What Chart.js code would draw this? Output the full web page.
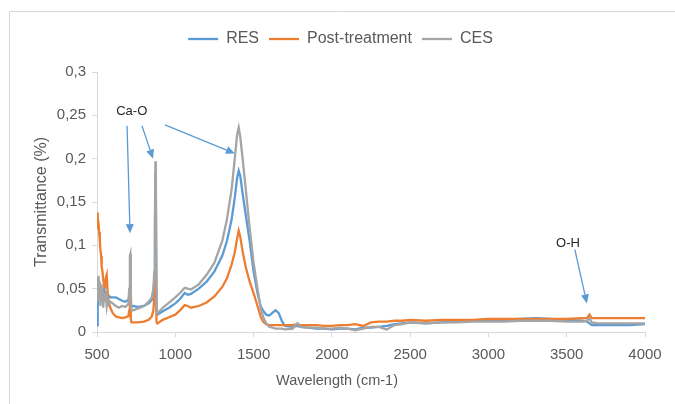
<!DOCTYPE html>
<html>
<head>
<meta charset="utf-8">
<script src="https://cdn.jsdelivr.net/npm/chart.js@4.4.1/dist/chart.umd.min.js"></script>
<style>
  html, body { margin: 0; padding: 0; background: #fff; }
  #wrap { width: 675px; height: 404px; }
</style>
</head>
<body>
<div id="wrap"><canvas id="chart" width="675" height="404"></canvas></div>
<script>
// wavenumbers shared by all three spectra (cm-1)
const wavenumbers = [
  500, 503, 506, 510, 514, 518, 522, 526, 530, 535, 540, 545, 550, 556, 562, 568, 575, 585, 600,
  620, 640, 660, 680, 700, 706, 710, 713, 716, 720,
  730, 760, 800, 830, 850, 860, 866, 870, 873, 876, 880, 885, 895,
  920, 960, 1000, 1030, 1060, 1080, 1100, 1150, 1200, 1250, 1300, 1330, 1360, 1380, 1395, 1405, 1415, 1430, 1450, 1475, 1500, 1525, 1545,
  1560, 1580, 1600, 1620, 1640, 1660, 1680, 1700,
  1750, 1780, 1800, 1850, 1900, 1950, 2000, 2050, 2100, 2150, 2200, 2250, 2300, 2350, 2400, 2450, 2500,
  2600, 2700, 2800, 2900, 3000, 3100, 3200, 3300, 3400, 3500, 3600, 3630, 3645, 3660, 3700, 3800, 3900, 4000
];

const resValues = [
  0.008, 0.015, 0.03, 0.045, 0.05, 0.04, 0.052, 0.045, 0.048, 0.04, 0.046, 0.042, 0.045, 0.04, 0.043, 0.04, 0.042, 0.04, 0.04,
  0.04, 0.038, 0.036, 0.035, 0.037, 0.04, 0.045, 0.04, 0.032, 0.03,
  0.03, 0.029, 0.03, 0.033, 0.037, 0.045, 0.06, 0.11, 0.185, 0.15, 0.025, 0.02, 0.021,
  0.024, 0.028, 0.033, 0.038, 0.045, 0.043, 0.044, 0.05, 0.058, 0.07, 0.088, 0.105, 0.13, 0.155, 0.178, 0.186, 0.18, 0.16, 0.135, 0.105, 0.07, 0.045, 0.03,
  0.025, 0.02, 0.019, 0.022, 0.025, 0.022, 0.013, 0.007,
  0.006, 0.007, 0.006, 0.005, 0.004, 0.004, 0.003, 0.004, 0.004, 0.003, 0.005, 0.005, 0.006, 0.007, 0.009, 0.01, 0.011,
  0.01, 0.011, 0.012, 0.013, 0.013, 0.014, 0.015, 0.016, 0.015, 0.014, 0.013, 0.012, 0.01, 0.008, 0.008, 0.008, 0.008, 0.009
];

const postValues = [
  0.12, 0.138, 0.132, 0.125, 0.115, 0.105, 0.095, 0.088, 0.075, 0.07, 0.06, 0.055, 0.05, 0.062, 0.066, 0.045, 0.035, 0.028, 0.022,
  0.018, 0.017, 0.016, 0.017, 0.018, 0.025, 0.04, 0.035, 0.015, 0.011,
  0.011, 0.011, 0.012, 0.014, 0.018, 0.025, 0.04, 0.06, 0.083, 0.07, 0.012, 0.01, 0.011,
  0.014, 0.017, 0.02, 0.025, 0.031, 0.03, 0.028, 0.03, 0.034, 0.041, 0.052, 0.062, 0.078, 0.092, 0.108, 0.117, 0.11, 0.093, 0.075, 0.058, 0.045, 0.03, 0.018,
  0.012, 0.009, 0.008, 0.008, 0.008, 0.008, 0.008, 0.008,
  0.008, 0.009, 0.008, 0.008, 0.008, 0.007, 0.007, 0.008, 0.008, 0.009, 0.007, 0.011, 0.012, 0.012, 0.013, 0.013, 0.014,
  0.013, 0.014, 0.014, 0.014, 0.015, 0.015, 0.015, 0.015, 0.015, 0.015, 0.016, 0.016, 0.02, 0.016, 0.016, 0.016, 0.016, 0.016
];

const cesValues = [
  0.04, 0.062, 0.035, 0.065, 0.045, 0.058, 0.03, 0.055, 0.04, 0.05, 0.028, 0.045, 0.035, 0.042, 0.03, 0.038, 0.032, 0.035, 0.033,
  0.03, 0.028, 0.03, 0.029, 0.032, 0.05, 0.088, 0.09, 0.045, 0.025,
  0.025, 0.027, 0.03, 0.035, 0.04, 0.05, 0.07, 0.13, 0.197, 0.17, 0.03, 0.022, 0.023,
  0.028, 0.034, 0.04, 0.045, 0.051, 0.05, 0.049, 0.055, 0.066, 0.08, 0.105, 0.13, 0.165, 0.2, 0.228, 0.236, 0.225, 0.2, 0.165, 0.12, 0.08, 0.05, 0.028,
  0.018, 0.01, 0.006, 0.005, 0.004, 0.004, 0.004, 0.003,
  0.004, 0.01, 0.006, 0.005, 0.005, 0.004, 0.004, 0.005, 0.004, 0.002, 0.004, 0.006, 0.006, 0.003, 0.008, 0.009, 0.011,
  0.01, 0.011, 0.011, 0.012, 0.012, 0.012, 0.013, 0.013, 0.013, 0.012, 0.012, 0.013, 0.016, 0.011, 0.01, 0.01, 0.01, 0.01
];

const seriesNames = ["RES", "Post-treatment", "CES"];
const seriesColors = ["#5b9bd5", "#ed7d31", "#a5a5a5"];
const xTitle = "Wavelength (cm-1)";

// annotation labels and arrows, in data units (wavenumber, transmittance)
const labels = [
  { text: "Ca-O", x: 722, y: 0.255 },
  { text: "O-H", x: 3508, y: 0.102 }
];
const arrows = [
  { from: [692, 0.238], to: [711, 0.114] },
  { from: [787, 0.238], to: [858, 0.200] },
  { from: [934, 0.239], to: [1381, 0.206] },
  { from: [3552, 0.095], to: [3629, 0.033] }
];

const toPoints = (vals) => vals.map((v, i) => ({ x: wavenumbers[i], y: v }));

const fontFamily = "'Liberation Sans', Arial, sans-serif";
const axisGrey = "#d9d9d9";
const textGrey = "#595959";

// light frame on the left and top edges, and the x axis title
// (the title sits centred on the page, not on the plot area)
const frame = {
  id: "frame",
  beforeDraw(chart) {
    const ctx = chart.ctx;
    ctx.save();
    ctx.strokeStyle = axisGrey;
    ctx.lineWidth = 1;
    ctx.beginPath();
    ctx.moveTo(9.5, 404);
    ctx.lineTo(9.5, 11.5);
    ctx.lineTo(675, 11.5);
    ctx.stroke();
    ctx.fillStyle = textGrey;
    ctx.font = "14.5px " + fontFamily;
    ctx.textAlign = "center";
    ctx.textBaseline = "middle";
    ctx.fillText(xTitle, 337, 381);
    ctx.restore();
  }
};

const annotate = {
  id: "annotate",
  afterDatasetsDraw(chart) {
    const { ctx, scales } = chart;
    const xs = scales.x, ys = scales.y;
    ctx.save();
    ctx.fillStyle = "#262626";
    ctx.font = "13px " + fontFamily;
    ctx.textAlign = "center";
    ctx.textBaseline = "middle";
    labels.forEach(l => ctx.fillText(l.text, xs.getPixelForValue(l.x), ys.getPixelForValue(l.y)));

    ctx.strokeStyle = "#5b9bd5";
    ctx.fillStyle = "#5b9bd5";
    ctx.lineWidth = 1.3;
    arrows.forEach(a => {
      const x1 = xs.getPixelForValue(a.from[0]), y1 = ys.getPixelForValue(a.from[1]);
      const x2 = xs.getPixelForValue(a.to[0]), y2 = ys.getPixelForValue(a.to[1]);
      const ang = Math.atan2(y2 - y1, x2 - x1);
      const head = 9, wing = 4;
      const bx = x2 - head * Math.cos(ang), by = y2 - head * Math.sin(ang);
      ctx.beginPath();
      ctx.moveTo(x1, y1);
      ctx.lineTo(bx, by);
      ctx.stroke();
      ctx.beginPath();
      ctx.moveTo(x2, y2);
      ctx.lineTo(bx + wing * Math.sin(ang), by - wing * Math.cos(ang));
      ctx.lineTo(bx - wing * Math.sin(ang), by + wing * Math.cos(ang));
      ctx.closePath();
      ctx.fill();
    });
    ctx.restore();
  }
};

// push the plot area down below the legend, and nudge the legend right
const legendGap = {
  id: "legendGap",
  beforeLayout(chart) {
    const lg = chart.legend;
    if (lg && !lg._gapped) {
      const fit = lg.fit.bind(lg);
      lg.fit = function () { fit(); this.height += 15; };
      lg._gapped = true;
    }
  },
  afterLayout(chart) {
    const lg = chart.legend;
    if (lg) { lg.left += 8; lg.right += 8; }
  }
};

const tickFont = { family: fontFamily, size: 15 };

new Chart(document.getElementById("chart"), {
  type: "line",
  data: {
    datasets: seriesNames.map((name, i) => ({
      label: name,
      data: toPoints([resValues, postValues, cesValues][i]),
      borderColor: seriesColors[i],
      backgroundColor: seriesColors[i],
      borderWidth: 2.3,
      pointRadius: 0,
      tension: 0,
      order: 3 - i
    }))
  },
  options: {
    responsive: false,
    animation: false,
    layout: { padding: { left: 20, right: 30, top: 21, bottom: 0 } },
    plugins: {
      legend: {
        position: "top",
        labels: {
          usePointStyle: true,
          pointStyle: "line",
          pointStyleWidth: 30,
          boxWidth: 30,
          boxHeight: 2,
          padding: 10,
          color: textGrey,
          font: { family: fontFamily, size: 16 },
          sort: (a, b) => a.datasetIndex - b.datasetIndex
        }
      },
      tooltip: { enabled: false }
    },
    scales: {
      x: {
        type: "linear",
        min: 500,
        max: 4000,
        afterFit: (s) => { s.height = 72; },
        ticks: {
          stepSize: 500,
          color: textGrey,
          font: tickFont,
          padding: 9,
          maxRotation: 0,
          callback: (v) => String(v)
        },
        grid: { drawOnChartArea: false, color: axisGrey, tickLength: 5 },
        border: { color: axisGrey },
        title: { display: false }
      },
      y: {
        min: 0,
        max: 0.3,
        afterFit: (s) => { s.width = 77; },
        ticks: {
          stepSize: 0.05,
          color: textGrey,
          font: tickFont,
          padding: 6,
          callback: (v) => Number(v.toFixed(2)).toString().replace(".", ",")
        },
        grid: { drawOnChartArea: false, color: axisGrey, tickLength: 5 },
        border: { color: axisGrey },
        title: {
          display: true,
          text: "Transmittance (%)",
          color: textGrey,
          font: { family: fontFamily, size: 16 },
          padding: { top: 12, bottom: 12 }
        }
      }
    }
  },
  plugins: [frame, legendGap, annotate]
});
</script>
</body>
</html>
